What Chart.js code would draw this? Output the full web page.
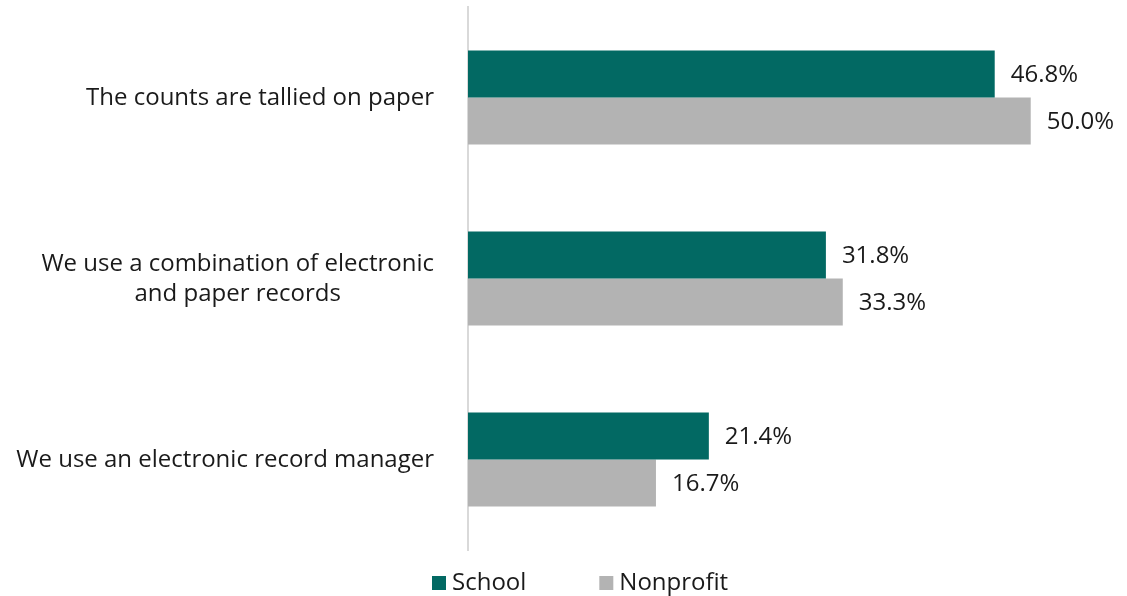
<!DOCTYPE html>
<html>
<head>
<meta charset="utf-8">
<script src="https://cdn.jsdelivr.net/npm/chart.js@4.4.1/dist/chart.umd.min.js"></script>
<style>
  html, body { margin: 0; padding: 0; background: #ffffff; }
  #wrap { width: 1127px; height: 596px; position: relative; }
</style>
</head>
<body>
<div id="wrap"><canvas id="chart"></canvas></div>
<script>
// Record-keeping methods, share of respondents (%)
const categories = [
  ["The counts are tallied on paper"],
  ["We use a combination of electronic", "and paper records"],
  ["We use an electronic record manager"]
];
const seriesNames = ["School", "Nonprofit"];
const schoolValues = [46.8, 31.8, 21.4];
const nonprofitValues = [50.0, 33.3, 16.7];
const seriesColors = ["#026963", "#b3b3b3"];

const FONT = '"Open Sans", "Liberation Sans", sans-serif';
const FONT_SIZE = 24;
const TEXT_COLOR = "#1a1a1a";

// Draws value labels, wrapped category labels and the legend row
const annotate = {
  id: "annotate",
  afterDatasetsDraw(chart) {
    const ctx = chart.ctx;
    const area = chart.chartArea;
    ctx.save();
    ctx.font = FONT_SIZE + "px " + FONT;
    ctx.fillStyle = TEXT_COLOR;
    ctx.textBaseline = "middle";

    // value at the end of each bar
    ctx.textAlign = "left";
    chart.data.datasets.forEach((ds, di) => {
      chart.getDatasetMeta(di).data.forEach((bar, i) => {
        ctx.fillText(ds.data[i].toFixed(1) + "%", bar.x + 16, bar.y + 1);
      });
    });

    // category labels: block right-aligned to the axis, lines centred in the block
    const yScale = chart.scales.y;
    const labelRight = area.left - 34;
    const lineH = 30;
    ctx.textAlign = "center";
    categories.forEach((lines, i) => {
      const cy = yScale.getPixelForValue(i);
      const maxW = Math.max(...lines.map(l => ctx.measureText(l).width));
      const cx = labelRight - maxW / 2;
      lines.forEach((l, k) => {
        ctx.fillText(l, cx, cy + 1 + (k - (lines.length - 1) / 2) * lineH);
      });
    });

    // legend
    const box = 14, boxGap = 6, itemGap = 73;
    let x = 432;
    const ly = area.bottom + 33;
    ctx.textAlign = "left";
    chart.data.datasets.forEach((ds) => {
      ctx.fillStyle = ds.backgroundColor;
      ctx.fillRect(x, ly - box / 2, box, box);
      ctx.fillStyle = TEXT_COLOR;
      const tx = x + box + boxGap;
      ctx.fillText(ds.label, tx, ly);
      x = tx + ctx.measureText(ds.label).width + itemGap;
    });
    ctx.restore();
  }
};

function draw() {
  new Chart(document.getElementById("chart"), {
    type: "bar",
    data: {
      labels: categories.map(l => l.join(" ")),
      datasets: [
        { label: seriesNames[0], data: schoolValues, backgroundColor: seriesColors[0] },
        { label: seriesNames[1], data: nonprofitValues, backgroundColor: seriesColors[1] }
      ]
    },
    options: {
      indexAxis: "y",
      responsive: true,
      maintainAspectRatio: false,
      animation: false,
      devicePixelRatio: 1,
      layout: { padding: { top: 7, right: 40, bottom: 46, left: 0 } },
      datasets: { bar: { categoryPercentage: 0.52, barPercentage: 1.0, borderWidth: 0 } },
      plugins: { legend: { display: false }, tooltip: { enabled: false } },
      scales: {
        x: { display: false, min: 0, max: 55 },
        y: {
          grid: { display: false },
          ticks: { display: false },
          border: { display: true, color: "#d9d9d9", width: 2 },
          afterFit(scale) { scale.width = 468; }
        }
      }
    },
    plugins: [annotate]
  });
}

if (document.fonts && document.fonts.load) {
  document.fonts.load(FONT_SIZE + 'px "Open Sans"').then(draw, draw);
} else {
  draw();
}
</script>
</body>
</html>
